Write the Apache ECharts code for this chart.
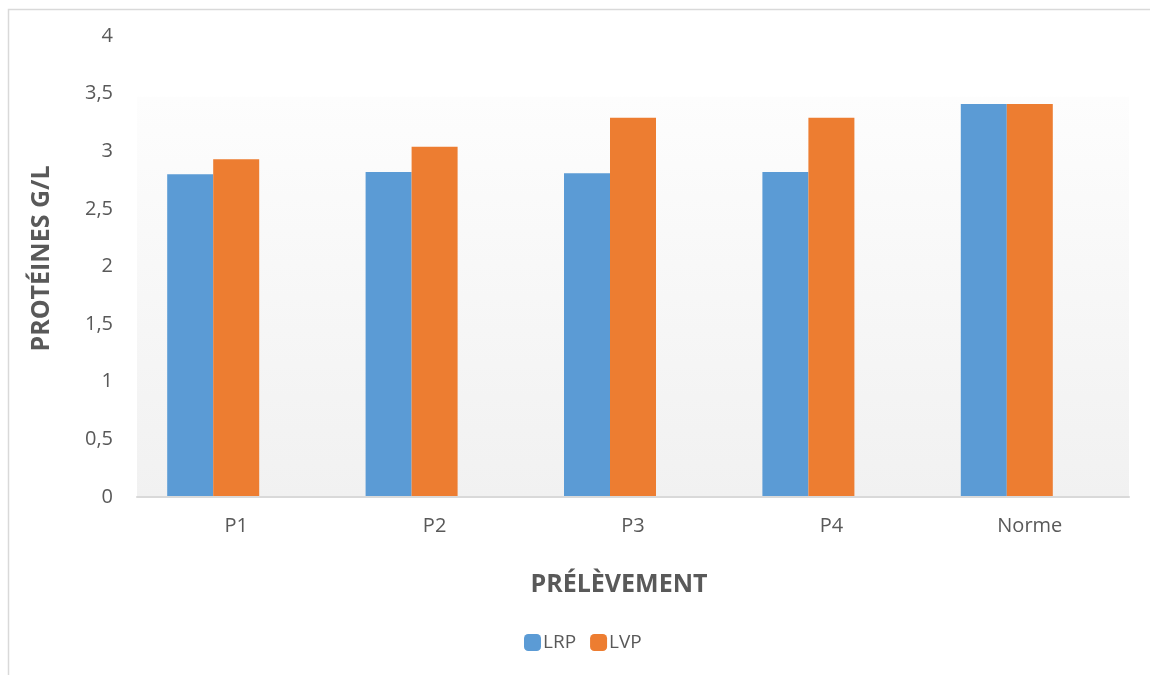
<!DOCTYPE html>
<html>
<head>
<meta charset="utf-8">
<script src="https://cdn.jsdelivr.net/npm/echarts@6/dist/echarts.min.js"></script>
<style>
  html, body { margin: 0; padding: 0; background: #ffffff; }
  #chart { width: 1150px; height: 675px; }
</style>
</head>
<body>
<div id="chart"></div>
<script>
// Prélèvements and protein levels (g/L)
const categories = ['P1', 'P2', 'P3', 'P4', 'Norme'];
const lrpValues = [2.80, 2.82, 2.81, 2.82, 3.41];
const lvpValues = [2.93, 3.04, 3.29, 3.29, 3.41];
// third, empty slot of each cluster (keeps the bars left of the category centre)
const emptyValues = [null, null, null, null, null];
const yTicks = { min: 0, max: 4, interval: 0.5 };

const textColor = '#595959';
const fontFamily = '"Open Sans", sans-serif';

const chart = echarts.init(document.getElementById('chart'), null, { renderer: 'canvas' });

chart.setOption({
  backgroundColor: '#ffffff',
  animation: false,
  graphic: [{
    type: 'rect',
    left: 6, top: 7,
    shape: { width: 1200, height: 700 },
    style: { fill: 'none', stroke: '#d9d9d9', lineWidth: 1.5 },
    silent: true
  }],
  grid: {
    left: 137, right: 21, top: 36, bottom: 178,
    show: true,
    borderWidth: 0,
    backgroundColor: {
      type: 'linear', x: 0, y: 0, x2: 0, y2: 1,
      colorStops: [
        { offset: 0, color: '#ffffff' },
        { offset: 0.131, color: '#ffffff' },
        { offset: 0.133, color: '#fdfdfd' },
        { offset: 1, color: '#f1f1f1' }
      ]
    }
  },
  legend: {
    data: ['LRP', 'LVP'],
    left: 519, top: 628,
    itemWidth: 17, itemHeight: 17, itemGap: 14,
    icon: 'roundRect',
    textStyle: { color: textColor, fontSize: 19, fontFamily: fontFamily, padding: [0, 0, 0, -3] }
  },
  xAxis: {
    type: 'category',
    data: categories,
    name: 'PRÉLÈVEMENT',
    nameLocation: 'middle',
    nameGap: 75,
    nameTextStyle: {
      color: textColor, fontSize: 25, fontWeight: 'bold', fontFamily: fontFamily,
      padding: [0, 28, 0, 0]
    },
    axisLine: { show: true, lineStyle: { color: '#d9d9d9', width: 2 } },
    axisTick: { show: false },
    axisLabel: { color: textColor, fontSize: 20, fontFamily: fontFamily, margin: 19 },
    z: 10
  },
  yAxis: {
    type: 'value',
    min: yTicks.min, max: yTicks.max, interval: yTicks.interval,
    name: 'PROTÉINES G/L',
    nameLocation: 'middle',
    nameGap: 83,
    nameTextStyle: {
      color: textColor, fontSize: 25, fontWeight: 'bold', fontFamily: fontFamily,
      padding: [0, 0, 0, 16]
    },
    axisLine: { show: false },
    axisTick: { show: false },
    splitLine: { show: false },
    axisLabel: {
      color: textColor, fontSize: 20, fontFamily: fontFamily, margin: 24,
      formatter: v => String(v).replace('.', ',')
    }
  },
  series: [
    { name: 'LRP', type: 'bar', data: lrpValues, barWidth: 46, barGap: '0%',
      itemStyle: { color: '#5b9bd5' } },
    { name: 'LVP', type: 'bar', data: lvpValues, barWidth: 46, barGap: '0%',
      itemStyle: { color: '#ed7d31' } },
    { name: 'vide', type: 'bar', data: emptyValues, barWidth: 46, barGap: '0%' }
  ]
});
</script>
</body>
</html>
